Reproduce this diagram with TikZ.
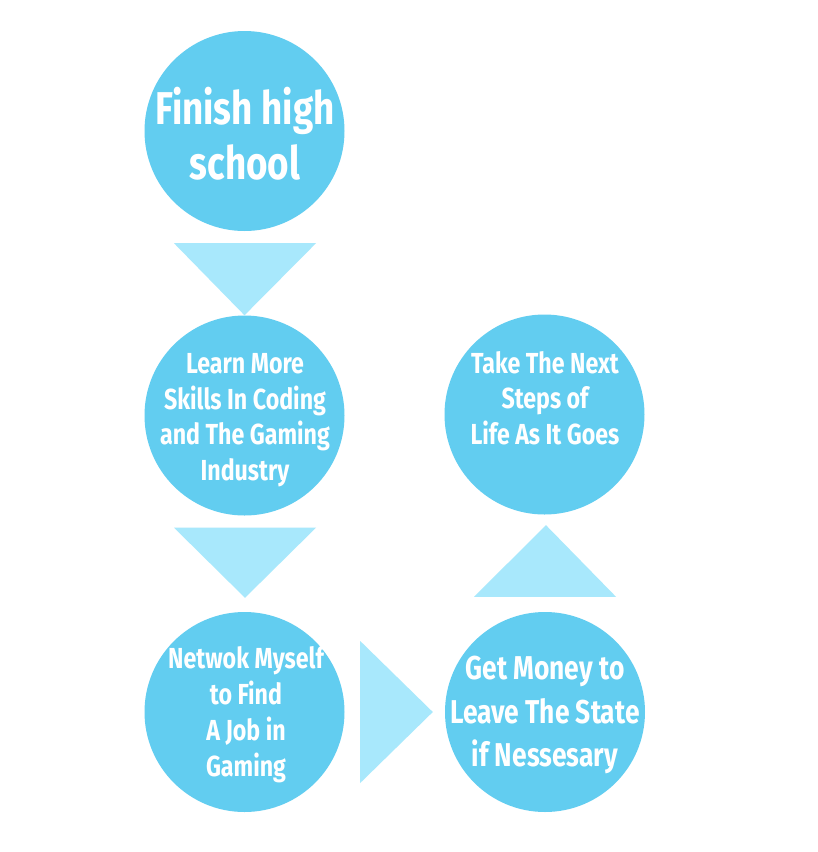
\documentclass[tikz,border=0pt]{standalone}
\usepackage{fontspec}
\usetikzlibrary{calc}
\setmainfont{Fira Sans}[UprightFont=* Bold, FakeStretch=0.80]
\definecolor{circ}{HTML}{62CDF0}
\definecolor{tri}{HTML}{A8E8FC}
\begin{document}
\begin{tikzpicture}[x=1pt,y=-1pt,
  stepcircle/.style={circle, fill=circ, minimum size=200pt, inner sep=0pt},
  txt/.style={text=white, align=center, inner sep=0pt},
  arrowtri/.style={fill=tri}]
\useasboundingbox (0,0) rectangle (818,852);
\fill[white] (0,0) rectangle (818,852);
% circles
\node[stepcircle] (c1) at (244.5,131) {};
\node[stepcircle] (c2) at (244.5,415.5) {};
\node[stepcircle] (c3) at (244.5,712) {};
\node[stepcircle] (c4) at (544.5,414.5) {};
\node[stepcircle] (c5) at (545,712) {};
% texts
\node[txt, font=\fontsize{46}{55}\selectfont] (t1) at (245,134) {Finish high\\school};
\node[txt, font=\fontsize{29}{35.5}\selectfont] (t2) at (245,420) {Learn More\\Skills In Coding\\and The Gaming\\Industry};
\node[txt, font=\fontsize{29}{36}\selectfont] (t3) at (246,715) {Netwok Myself\\to Find\\A Job in\\Gaming};
\node[txt, font=\fontsize{29}{35.5}\selectfont] (t4) at (545,398) {Take The Next\\Steps of\\Life As It Goes};
\node[txt, font=\fontsize{33}{43.5}\selectfont] (t5) at (545,715) {Get Money to\\Leave The State\\if Nessesary};
% arrow triangles
\fill[arrowtri] ($(c1.south)+(-70.5,12)$) -- ($(c1.south)+(71.5,12)$) -- (c2.north) -- cycle;
\fill[arrowtri] ($(c2.south)+(-70.5,12)$) -- ($(c2.south)+(71.5,12)$) -- ($(c3.north)+(0.5,-14)$) -- cycle;
\fill[arrowtri] ($(c3.east)+(15.5,-71)$) -- ($(c3.east)+(15.5,71)$) -- ($(c5.west)+(-12,0)$) -- cycle;
\fill[arrowtri] ($(c5.north)+(-71,-15)$) -- ($(c5.north)+(71,-15)$) -- ($(c4.south)+(1.5,10.5)$) -- cycle;
\end{tikzpicture}
\end{document}
